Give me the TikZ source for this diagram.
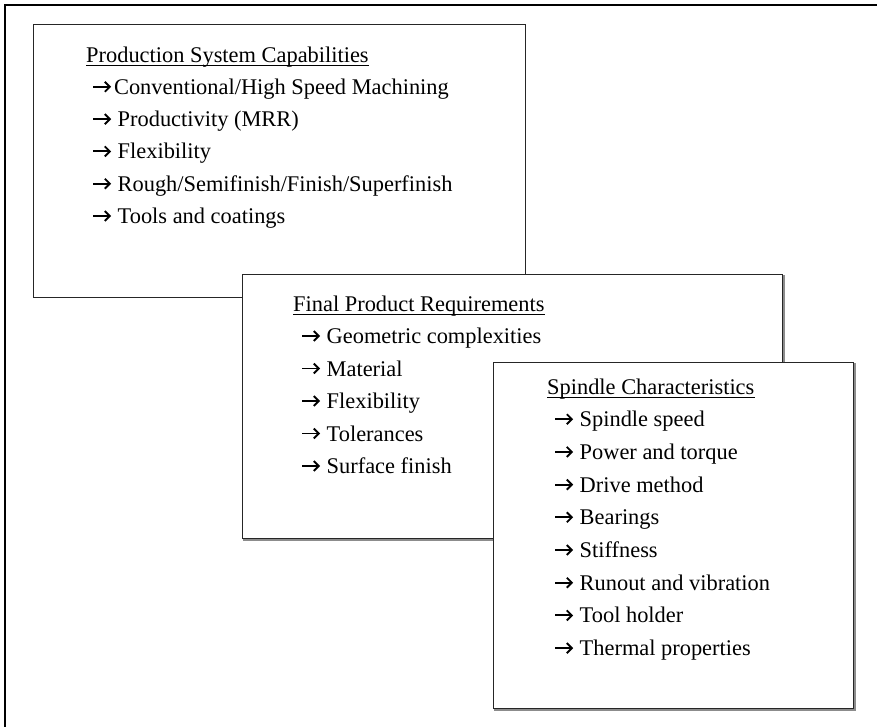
\documentclass[tikz,border=0pt]{standalone}
\usepackage{fontspec}
\setmainfont{Liberation Serif}
\usetikzlibrary{positioning, arrows.meta}
% item marker: short heavy arrow with open head
\newcommand\itemarrow{\tikz[baseline=0pt]\draw[line width=1.9pt, -{Straight Barb[length=5pt, width=10pt]}] (0pt,7.5pt) -- (18pt,7.5pt);}

\begin{document}
\begin{tikzpicture}[
    x=1pt, y=-1pt,
    % Styles for the three overlapping panels
    panel/.style={draw=black!85, line width=1.3pt, fill=white, rectangle, anchor=north west, inner sep=0pt},
    shadowed/.style={preaction={draw=black!45, line width=1.3pt, transform canvas={shift={(1.2pt,-1.2pt)}}}},
    heading/.style={anchor=base west, inner sep=0pt, font=\fontsize{22.4}{26}\selectfont},
    entry/.style={anchor=base west, inner sep=0pt, font=\fontsize{22.4}{26}\selectfont},
    uline/.style={line width=0.9pt}
]
    \useasboundingbox (0,0) rectangle (877,726);
    \clip (0,0) rectangle (877,726);

    % Outer frame (only top and left edge fall inside the page)
    \draw[line width=2pt] (5,5) rectangle (900,750);

    % Production system panel
    \node (prodbox) [panel, minimum width=492pt, minimum height=273pt] at (33,24) {};
    \node (prodtitle) [heading] at ([xshift=53pt, yshift=-38pt]prodbox.north west) {Production System Capabilities};
    \draw[uline] ([yshift=-3pt]prodtitle.base west) -- ([yshift=-3pt]prodtitle.base east);
    \node (prod1) [entry] at ([xshift=6pt, yshift=-32.3pt]prodtitle.base west) {\itemarrow\kern2pt Conventional/High Speed Machining};
    \node (prod2) [entry] at ([yshift=-32.3pt]prod1.base west) {\itemarrow\ Productivity (MRR)};
    \node (prod3) [entry] at ([yshift=-32.3pt]prod2.base west) {\itemarrow\ Flexibility};
    \node (prod4) [entry] at ([yshift=-32.3pt]prod3.base west) {\itemarrow\ Rough/Semifinish/Finish/Superfinish};
    \node (prod5) [entry] at ([yshift=-32.3pt]prod4.base west) {\itemarrow\ Tools and coatings};

    % Final product panel
    \node (reqbox) [panel, shadowed, minimum width=540pt, minimum height=264pt] at (242,274) {};
    \node (reqtitle) [heading] at ([xshift=51pt, yshift=-37pt]reqbox.north west) {Final Product Requirements};
    \draw[uline] ([yshift=-3pt]reqtitle.base west) -- ([yshift=-3pt]reqtitle.base east);
    \node (req1) [entry] at ([xshift=8pt, yshift=-32.5pt]reqtitle.base west) {\itemarrow\ Geometric complexities};
    \node (req2) [entry] at ([yshift=-32.5pt]req1.base west) {\itemarrow\ Material};
    \node (req3) [entry] at ([yshift=-32.5pt]req2.base west) {\itemarrow\ Flexibility};
    \node (req4) [entry] at ([yshift=-32.5pt]req3.base west) {\itemarrow\ Tolerances};
    \node (req5) [entry] at ([yshift=-32.5pt]req4.base west) {\itemarrow\ Surface finish};

    % Spindle panel
    \node (spindlebox) [panel, shadowed, minimum width=360pt, minimum height=346pt] at (493,362) {};
    \node (spindletitle) [heading] at ([xshift=54pt, yshift=-32pt]spindlebox.north west) {Spindle Characteristics};
    \draw[uline] ([yshift=-3pt]spindletitle.base west) -- ([yshift=-3pt]spindletitle.base east);
    \node (spin1) [entry] at ([xshift=7pt, yshift=-32.7pt]spindletitle.base west) {\itemarrow\ Spindle speed};
    \node (spin2) [entry] at ([yshift=-32.7pt]spin1.base west) {\itemarrow\ Power and torque};
    \node (spin3) [entry] at ([yshift=-32.7pt]spin2.base west) {\itemarrow\ Drive method};
    \node (spin4) [entry] at ([yshift=-32.7pt]spin3.base west) {\itemarrow\ Bearings};
    \node (spin5) [entry] at ([yshift=-32.7pt]spin4.base west) {\itemarrow\ Stiffness};
    \node (spin6) [entry] at ([yshift=-32.7pt]spin5.base west) {\itemarrow\ Runout and vibration};
    \node (spin7) [entry] at ([yshift=-32.7pt]spin6.base west) {\itemarrow\ Tool holder};
    \node (spin8) [entry] at ([yshift=-32.7pt]spin7.base west) {\itemarrow\ Thermal properties};

\end{tikzpicture}
\end{document}
